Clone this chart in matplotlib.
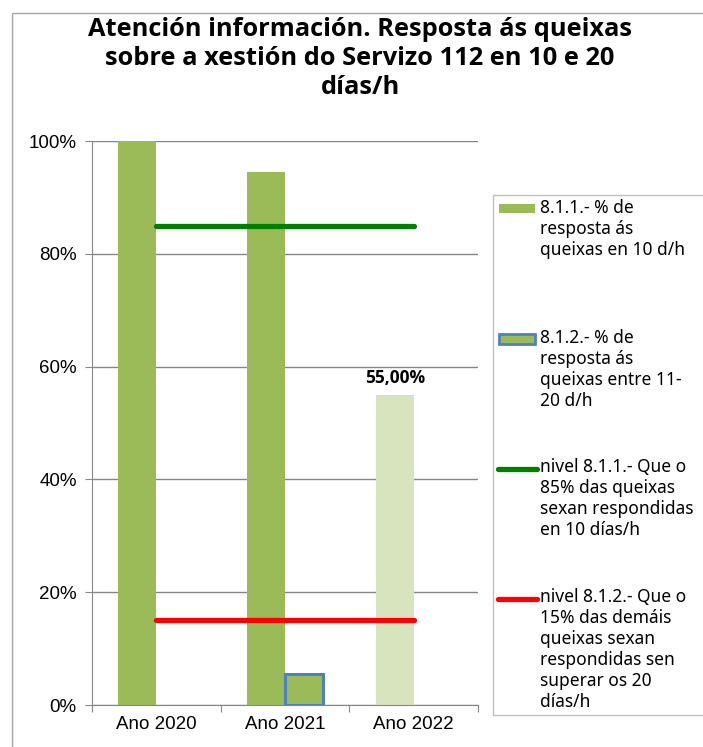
import numpy as np
import matplotlib.pyplot as plt
from matplotlib.patches import Rectangle
from matplotlib.lines import Line2D

plt.rcParams['font.family'] = ['Noto Sans', 'DejaVu Sans']

# datos
categorias = ['Ano 2020', 'Ano 2021', 'Ano 2022']
resposta_10 = [1.0, 0.945, 0.55]
resposta_11_20 = [np.nan, 0.055, np.nan]
nivel_811 = [0.85, 0.85, 0.85]
nivel_812 = [0.15, 0.15, 0.15]
etiqueta_2022 = '55,00%'
titulo = ('Atención información. Resposta ás queixas\n'
          'sobre a xestión do Servizo 112 en 10 e 20\ndías/h')
lendas = ['8.1.1.- % de\nresposta ás\nqueixas en 10 d/h',
          '8.1.2.- % de\nresposta ás\nqueixas entre 11-\n20 d/h',
          'nivel 8.1.1.- Que o\n85% das queixas\nsexan respondidas\nen 10 días/h',
          'nivel 8.1.2.- Que o\n15% das demáis\nqueixas sexan\nrespondidas sen\nsuperar os 20\ndías/h']

W, H = 703, 747
fig = plt.figure(figsize=(W / 100, H / 100), dpi=100)

def fx(px):
    return px / W

def fy(py):
    return 1 - py / H

# marco do gráfico
fig.patches.append(Rectangle((fx(12), -0.05), 1.1, fy(13) + 0.05, transform=fig.transFigure,
                             fill=False, edgecolor='#a6a6a6', lw=1))

fig.text(fx(360), fy(17), titulo, ha='center', va='top', fontsize=18.3,
         fontweight='bold', family=['Open Sans', 'DejaVu Sans'], linespacing=1.22)

ax = fig.add_axes([fx(92), fy(705), fx(478) - fx(92), fy(141) - fy(705)])
x = np.arange(len(categorias))
w = 0.295
cores = ['#9BBB59', '#9BBB59', '#D7E4BD']

ax.bar(x - w / 2, resposta_10, w, color=cores, zorder=2)
ax.bar(x + w / 2, resposta_11_20, w, color='#9BBB59', edgecolor='#4F81BD', linewidth=2.2, zorder=2)
ax.plot(x, nivel_811, color='#008000', lw=3.8, solid_capstyle='round', zorder=3)
ax.plot(x, nivel_812, color='#FF0000', lw=3.8, solid_capstyle='round', zorder=3)
ax.text(x[2] - w / 2, resposta_10[2] + 0.014, etiqueta_2022, ha='center', va='bottom',
        fontsize=12.5, fontweight='bold', family=['Open Sans', 'DejaVu Sans'])

ax.set_xlim(-0.5, 2.5)
ax.set_ylim(0, 1)
ax.set_yticks(np.arange(0, 1.01, 0.2))
ax.set_yticklabels([f'{int(round(v * 100))}%' for v in np.arange(0, 1.01, 0.2)],
                   family='Liberation Sans', fontsize=13.5)
ax.set_xticks([-0.5, 0.5, 1.5, 2.5])
ax.set_xticklabels([])
ax.set_xticks(x, minor=True)
ax.set_xticklabels(categorias, minor=True, family='Liberation Sans', fontsize=13.5)
ax.tick_params(axis='x', which='minor', length=0, pad=8)
ax.tick_params(axis='both', which='major', length=5, color='#868686')
ax.tick_params(axis='y', pad=6)
ax.grid(axis='y', color='#868686', lw=1, zorder=0)
ax.set_axisbelow(True)
for s in ['top', 'right']:
    ax.spines[s].set_visible(False)
for s in ['left', 'bottom']:
    ax.spines[s].set_color('#868686')

# lenda
fig.patches.append(Rectangle((fx(493), fy(715)), 1, fy(195) - fy(715), transform=fig.transFigure,
                             fill=False, edgecolor='#bfbfbf', lw=1))
primeira = [210, 340, 469, 599]
fig.patches.append(Rectangle((fx(499), fy(213)), fx(535) - fx(499), fy(204) - fy(213),
                             transform=fig.transFigure, facecolor='#9BBB59', edgecolor='none'))
fig.patches.append(Rectangle((fx(499), fy(344)), fx(535) - fx(499), fy(334) - fy(344),
                             transform=fig.transFigure, facecolor='#9BBB59', edgecolor='#4F81BD', lw=2))
fig.lines.append(Line2D([fx(498), fx(537)], [fy(469), fy(469)], transform=fig.transFigure,
                        color='#008000', lw=3.8, solid_capstyle='round'))
fig.lines.append(Line2D([fx(498), fx(537)], [fy(599), fy(599)], transform=fig.transFigure,
                        color='#FF0000', lw=3.8, solid_capstyle='round'))
for yy, txt in zip(primeira, lendas):
    fig.text(fx(540), fy(yy - 11), txt, ha='left', va='top', fontsize=12.5, linespacing=1.22)

fig.savefig('out.png', dpi=100)
